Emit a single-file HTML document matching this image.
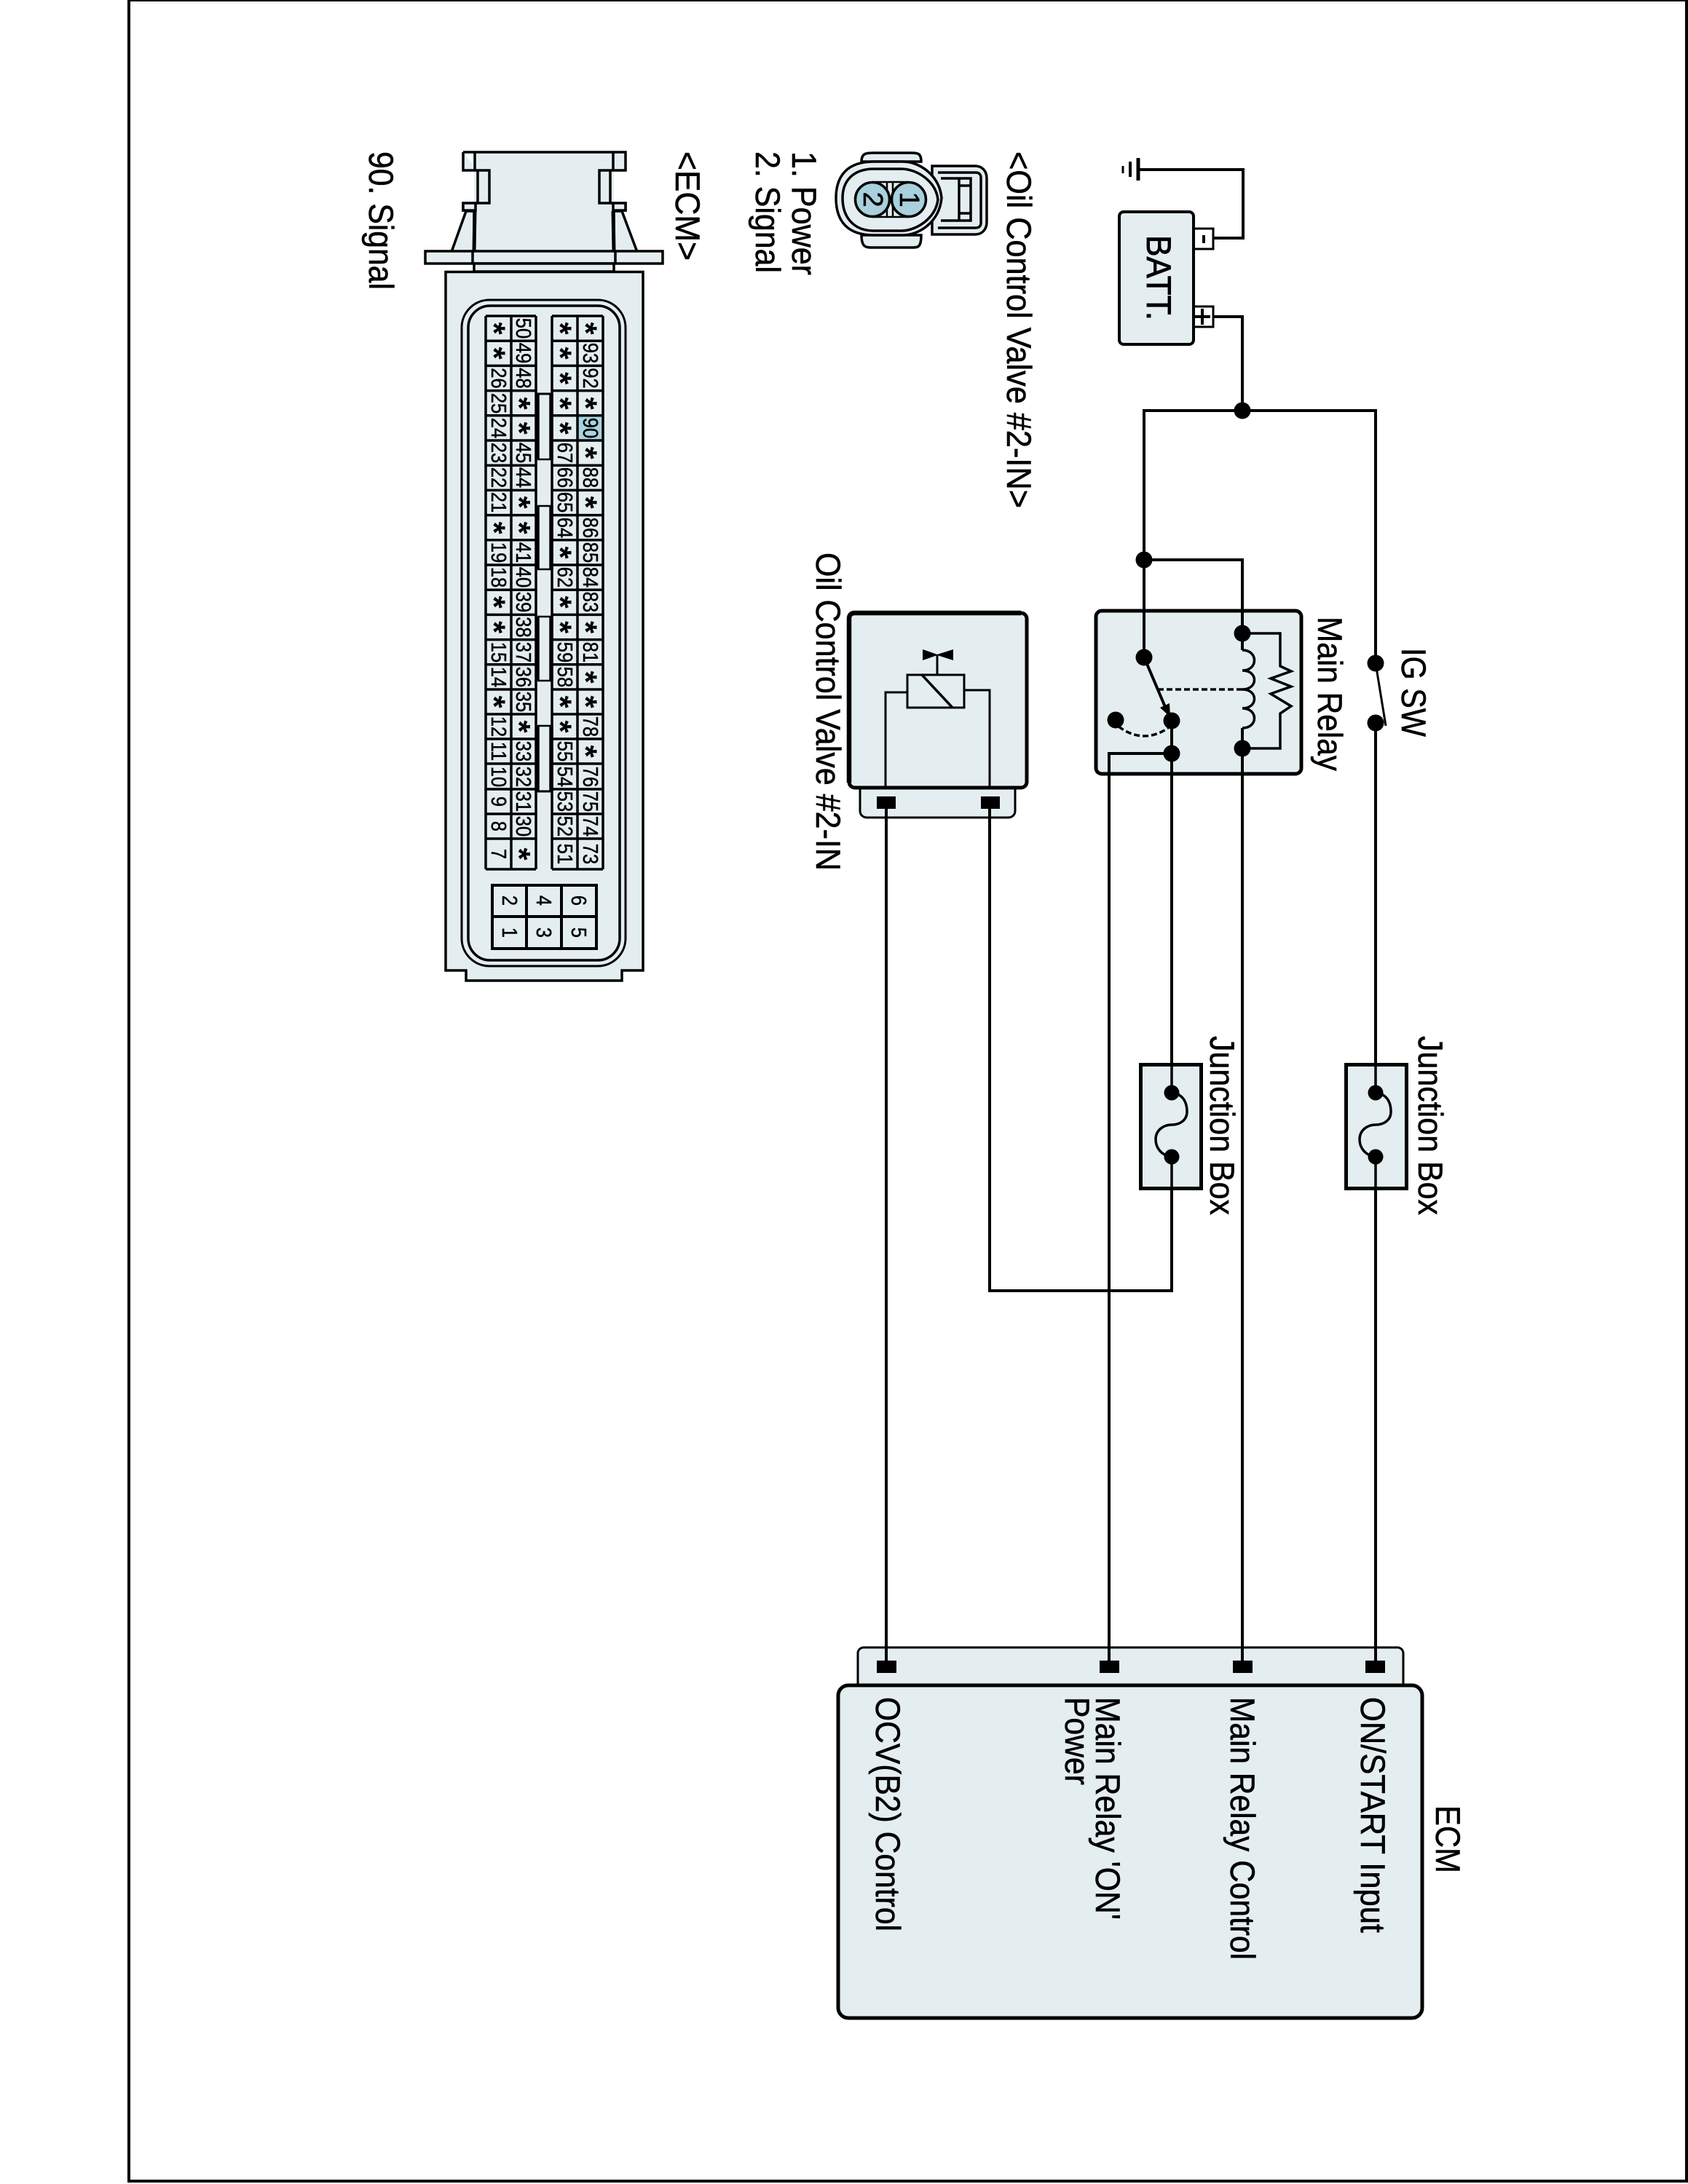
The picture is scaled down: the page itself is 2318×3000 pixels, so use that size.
<!DOCTYPE html>
<html><head><meta charset="utf-8"><style>
html,body{margin:0;padding:0;background:#fff}
svg{display:block}
text{font-family:"Liberation Sans",sans-serif;fill:#000}
.l text{font-size:47px;stroke:#000;stroke-width:.6}
.g text{font-size:29px;text-anchor:middle;stroke:#000;stroke-width:.5;transform-box:fill-box;transform-origin:center;transform:scaleX(.88)}
.s text{font-size:44px;font-weight:bold;text-anchor:middle}
.f{fill:#e4eef0;stroke:#000}
.n{fill:none;stroke:#000}
</style></head><body>
<svg xmlns="http://www.w3.org/2000/svg" width="2318" height="3000" viewBox="0 0 2318 3000">
<rect width="2318" height="3000" fill="#fff"/>
<path d="M177 0V2996H2316V0H177" class="n" stroke-width="4"/>
<path d="M177 1H2316" class="n" stroke-width="2"/>

<!-- wires -->
<g class="n" stroke-width="4">
<path d="M1666 327H1707V233H1563"/>
<path d="M1666 435H1706V564"/>
<path d="M1571 903V564H1889V911" />
<path d="M1571 769H1706V870"/>
<path d="M1889 993V2290"/>
<path d="M1706 1028V2290"/>
<path d="M1609 990V1773H1359V1100"/>
<path d="M1609 1035H1523V2290"/>
<path d="M1217 1100V2290"/>
<path d="M1563 217V248" stroke-width="5"/>
<path d="M1552 222V243" stroke-width="4"/>
<path d="M1542 228V238" stroke-width="3"/>
<path d="M1889 911L1903 997" stroke-width="3"/>
</g>
<circle cx="1706" cy="564" r="11.5"/>
<circle cx="1571" cy="769" r="11.5"/>
<circle cx="1889" cy="911" r="11.5"/>
<circle cx="1889" cy="993" r="11.5"/>

<!-- Battery -->
<rect x="1639" y="314" width="27" height="28" fill="#fff" stroke="#000" stroke-width="3"/>
<rect x="1639" y="421" width="27" height="28" fill="#fff" stroke="#000" stroke-width="3"/>
<rect x="1537" y="291" width="102" height="182" rx="6" class="f" stroke-width="4"/>
<rect x="1651" y="323" width="4" height="11"/>
<path d="M1640 435H1662M1651 424V446" class="n" stroke-width="4"/>

<!-- Main relay -->
<rect x="1505" y="839" width="282" height="224" rx="8" class="f" stroke-width="5"/>
<g class="n" stroke-width="4">
<path d="M1571 839V903"/>
<path d="M1706 839V893"/>
<path d="M1706 1000V1063"/>
<path d="M1609 990V1063"/>
<path d="M1609 1035H1523V1063"/>
<path d="M1706 893C1728 893 1728 921 1706 921C1728 921 1728 947 1706 947C1728 947 1728 973 1706 973C1728 973 1728 1000 1706 1000" stroke-width="3.5"/>
<path d="M1706 870H1758V915L1773 922L1745 932L1773 943L1745 953L1773 970L1758 980V1028H1706" stroke-width="3.5"/>
<path d="M1575 912L1603 978" stroke-width="4"/>
<path d="M1590 947H1712" stroke-width="3.5" stroke-dasharray="8 4"/>
<path d="M1536 998Q1570 1023 1604 1000" stroke-width="3.5" stroke-dasharray="8 4"/>
</g>
<polygon points="1593,972 1606,966 1607,985"/>
<circle cx="1706" cy="870" r="11.5"/>
<circle cx="1706" cy="1028" r="11.5"/>
<circle cx="1571" cy="903" r="11.5"/>
<circle cx="1609" cy="990" r="11.5"/>
<circle cx="1609" cy="1035" r="11.5"/>
<circle cx="1532" cy="989" r="11.5"/>

<!-- Junction boxes -->
<rect x="1566.5" y="1462.5" width="83" height="170" class="f" stroke-width="5"/>
<rect x="1848.5" y="1462.5" width="83" height="170" class="f" stroke-width="5"/>
<g class="n" stroke-width="3.5">
<path d="M1609 1461V1501M1609 1589V1634"/>
<path d="M1889 1461V1501M1889 1589V1634"/>
<path d="M1609 1501C1626 1503 1630 1516 1630 1527C1630 1539 1620 1545 1609 1545C1597 1545 1587 1553 1587 1565C1587 1576 1594 1587 1609 1589"/>
<path d="M1889 1501C1906 1503 1910 1516 1910 1527C1910 1539 1900 1545 1889 1545C1877 1545 1867 1553 1867 1565C1867 1576 1874 1587 1889 1589"/>
</g>
<circle cx="1609" cy="1501" r="10.5"/><circle cx="1609" cy="1589" r="10.5"/>
<circle cx="1889" cy="1501" r="10.5"/><circle cx="1889" cy="1589" r="10.5"/>

<!-- OCV -->
<rect x="1181" y="1060" width="213" height="63" rx="9" class="f" stroke-width="3"/>
<rect x="1166" y="842" width="244" height="240" rx="8" class="f" stroke-width="5"/>
<path d="M1166 1075V850Q1166 842 1174 842H1402" class="n" stroke-width="6.5"/>
<rect x="1204" y="1094" width="26" height="17"/>
<rect x="1347" y="1094" width="26" height="17"/>
<path d="M1217 1105V1125M1359 1105V1125" class="n" stroke-width="4"/>
<rect x="1246" y="927" width="78" height="45" class="f" stroke-width="3"/>
<g class="n" stroke-width="3">
<path d="M1266 927L1308 972" stroke-width="3.5"/>
<path d="M1287 927V900"/>
<path d="M1216 1083V951H1246"/>
<path d="M1359 1083V948H1324"/>
</g>
<polygon points="1267,892 1287,899 1309,892 1309,907 1287,900 1267,907"/>

<!-- ECM module -->
<rect x="1178" y="2263" width="749" height="70" rx="8" class="f" stroke-width="3"/>
<rect x="1151" y="2315" width="802" height="457" rx="14" class="f" stroke-width="5"/>
<path d="M1217 2260V2290M1523 2260V2290M1706 2260V2290M1889 2260V2290" class="n" stroke-width="4"/>
<rect x="1204" y="2281" width="27" height="17"/>
<rect x="1510" y="2281" width="27" height="17"/>
<rect x="1693" y="2281" width="27" height="17"/>
<rect x="1875" y="2281" width="27" height="17"/>

<!-- Small connector -->
<g stroke-width="3.5">
<path d="M1183 222C1183 210 1190 210 1200 210H1250C1260 210 1265 210 1265 222Z" class="f"/>
<path d="M1183 323C1183 341 1190 340 1200 340H1250C1260 340 1265 341 1265 323Z" class="f"/>
<path d="M1280 228H1339C1349 228 1355 235 1355 245V305C1355 315 1349 322 1339 322H1280Z" class="f"/>
<path d="M1288 237H1340C1345 237 1347 240 1347 244V306C1347 310 1345 313 1340 313H1288" class="n"/>
<path d="M1292 245H1333V303H1292" class="n"/>
<path d="M1317 245V303M1317 255H1333M1317 293H1333" class="n"/>
<path d="M1148 272C1148 240 1165 222 1200 222H1240C1262 222 1290 240 1293 272C1290 305 1262 323 1240 323H1200C1165 323 1148 305 1148 272Z" class="f"/>
<path d="M1157 272C1157 248 1172 232 1200 232H1238C1258 232 1285 248 1288 274C1285 300 1258 317 1238 317H1200C1172 317 1157 298 1157 272Z" class="n"/>
<path d="M1198 250H1248M1198 298H1248M1218 250V298M1226 250V298" class="n" stroke-width="2.5"/>
<circle cx="1198" cy="274" r="23.5" fill="#a9d0dc" stroke="#000"/>
<circle cx="1248" cy="274" r="23.5" fill="#a9d0dc" stroke="#000"/>
</g>
<text font-size="38" text-anchor="middle" stroke="#000" stroke-width=".6" transform="translate(1186,274) rotate(90)">2</text>
<text font-size="38" text-anchor="middle" stroke="#000" stroke-width=".6" transform="translate(1236,274) rotate(90)">1</text>

<!-- ECM connector -->
<g stroke-width="3.5">
<rect x="651" y="209" width="192" height="140" fill="#e4eef0"/>
<path d="M636 209H859V234H823V279H838V234M636 209V234H672V279H656V234" class="f"/>
<path d="M652 209V234M842 209V234M656 279H636V289H653M838 279H859V289H842" class="n"/>
<rect x="636" y="279" width="17" height="10" class="f"/>
<rect x="842" y="279" width="17" height="10" class="f"/>
<path d="M640 290L620 346H651V290Z" class="f"/>
<path d="M854 290L875 346H843V290Z" class="f"/>
<path d="M652 290L651 345M842 290L843 345" class="n" stroke-width="5"/>
<rect x="584" y="345" width="326" height="17" class="f"/>
<path d="M649 345V362M845 345V362" class="n"/>
<rect x="651" y="362" width="192" height="11" class="f"/>
<path d="M612 373.5H883V1333H854V1347H640V1333H612Z" class="f"/>
<rect x="634" y="412" width="225" height="915" rx="38" fill="none" stroke="#000" stroke-width="3"/>
<rect x="643" y="420" width="208" height="899" rx="30" fill="none" stroke="#000" stroke-width="3.5"/>
</g>
<rect x="793" y="570.8" width="35" height="34.2" fill="#a9d3e0"/>
<g class="n" stroke-width="3.5">
<path d="M667 434V1194M702 434V1194M736 434V1194M758 434V1194M793 434V1194M828 434V1194"/>
<path d="M667 434H736M667 468.2H736M667 502.4H736M667 536.6H736M667 570.8H736M667 605H736M667 639.2H736M667 673.4H736M667 707.6H736M667 741.8H736M667 776H736M667 810.2H736M667 844.4H736M667 878.6H736M667 912.8H736M667 947H736M667 981H736M667 1015H736M667 1049H736M667 1084H736M667 1118H736M667 1152H736M667 1194H736"/>
<path d="M758 434H828M758 468.2H828M758 502.4H828M758 536.6H828M758 570.8H828M758 605H828M758 639.2H828M758 673.4H828M758 707.6H828M758 741.8H828M758 776H828M758 810.2H828M758 844.4H828M758 878.6H828M758 912.8H828M758 947H828M758 981H828M758 1015H828M758 1049H828M758 1084H828M758 1118H828M758 1152H828M758 1194H828"/>
<path d="M738 631H757M738 695H757M738 782H757M738 847H757M738 935H757M738 997H757" stroke-width="2.5"/>
<path d="M738 541V631M757 541V631M738 695V782M757 695V782M738 847V935M757 847V935M738 997V1087M757 997V1087" stroke-width="5.5"/>
<path d="M737 1087H758M737 541H758" stroke-width="3"/>
<path d="M676 1216H819V1303H676ZM723 1216V1303M771 1216V1303M676 1259H819" stroke-width="4"/>
</g>

<!-- Pin numbers -->
<g transform="rotate(90)">
<g class="g">
<text x="485" y="-709">49</text><text x="451" y="-709">50</text><text x="519.5" y="-709">48</text><text x="622" y="-709">45</text><text x="656" y="-709">44</text><text x="759" y="-709">41</text><text x="793" y="-709">40</text><text x="827" y="-709">39</text><text x="861.5" y="-709">38</text><text x="896" y="-709">37</text><text x="930" y="-709">36</text><text x="964" y="-709">35</text><text x="1032" y="-709">33</text><text x="1067" y="-709">32</text><text x="1101" y="-709">31</text><text x="1135" y="-709">30</text>
<text x="519.5" y="-675">26</text><text x="554" y="-675">25</text><text x="588" y="-675">24</text><text x="622" y="-675">23</text><text x="656" y="-675">22</text><text x="690" y="-675">21</text><text x="759" y="-675">19</text><text x="793" y="-675">18</text><text x="896" y="-675">15</text><text x="930" y="-675">14</text><text x="998" y="-675">12</text><text x="1032" y="-675">11</text><text x="1067" y="-675">10</text><text x="1101" y="-675">9</text><text x="1135" y="-675">8</text><text x="1173" y="-675">7</text>
<text x="622" y="-766">67</text><text x="656" y="-766">66</text><text x="690" y="-766">65</text><text x="725" y="-766">64</text><text x="793" y="-766">62</text><text x="896" y="-766">59</text><text x="930" y="-766">58</text><text x="1032" y="-766">55</text><text x="1067" y="-766">54</text><text x="1101" y="-766">53</text><text x="1135" y="-766">52</text><text x="1173" y="-766">51</text>
<text x="485" y="-801">93</text><text x="519.5" y="-801">92</text><text x="588" y="-801">90</text><text x="656" y="-801">88</text><text x="725" y="-801">86</text><text x="759" y="-801">85</text><text x="793" y="-801">84</text><text x="827" y="-801">83</text><text x="896" y="-801">81</text><text x="998" y="-801">78</text><text x="1067" y="-801">76</text><text x="1101" y="-801">75</text><text x="1135" y="-801">74</text><text x="1173" y="-801">73</text>
<text x="1237" y="-690">2</text><text x="1281" y="-690">1</text>
<text x="1237" y="-737">4</text><text x="1281" y="-737">3</text>
<text x="1237" y="-785">6</text><text x="1281" y="-785">5</text>
</g>
<g class="s">
<text x="451" y="-663.5">*</text><text x="485" y="-663.5">*</text><text x="725" y="-663.5">*</text><text x="827" y="-663.5">*</text><text x="861.5" y="-663.5">*</text><text x="964" y="-663.5">*</text>
<text x="554" y="-698">*</text><text x="588" y="-698">*</text><text x="690" y="-698">*</text><text x="725" y="-698">*</text><text x="998" y="-698">*</text><text x="1173" y="-698">*</text>
<text x="451" y="-754.5">*</text><text x="485" y="-754.5">*</text><text x="519.5" y="-754.5">*</text><text x="554" y="-754.5">*</text><text x="588" y="-754.5">*</text><text x="759" y="-754.5">*</text><text x="827" y="-754.5">*</text><text x="861.5" y="-754.5">*</text><text x="964" y="-754.5">*</text><text x="998" y="-754.5">*</text>
<text x="451" y="-789.5">*</text><text x="554" y="-789.5">*</text><text x="622" y="-789.5">*</text><text x="690" y="-789.5">*</text><text x="861.5" y="-789.5">*</text><text x="930" y="-789.5">*</text><text x="964" y="-789.5">*</text><text x="1032" y="-789.5">*</text>
</g>
</g>

<!-- Labels -->
<g class="l">
<text transform="translate(1575,323) rotate(90)" textLength="117" lengthAdjust="spacingAndGlyphs" style="stroke-width:.9">BATT.</text>
<text transform="translate(1925,890) rotate(90)" textLength="122" lengthAdjust="spacingAndGlyphs">IG SW</text>
<text transform="translate(1810,847) rotate(90)" textLength="212" lengthAdjust="spacingAndGlyphs">Main Relay</text>
<text transform="translate(1121,759) rotate(90)" textLength="437" lengthAdjust="spacingAndGlyphs">Oil Control Valve #2-IN</text>
<text transform="translate(1948,1423) rotate(90)" textLength="246" lengthAdjust="spacingAndGlyphs">Junction Box</text>
<text transform="translate(1662,1423) rotate(90)" textLength="246" lengthAdjust="spacingAndGlyphs">Junction Box</text>
<text transform="translate(1383,208) rotate(90)" textLength="490" lengthAdjust="spacingAndGlyphs">&lt;Oil Control Valve #2-IN&gt;</text>
<text transform="translate(1088,208) rotate(90)" textLength="170" lengthAdjust="spacingAndGlyphs">1. Power</text>
<text transform="translate(1038,208) rotate(90)" textLength="167" lengthAdjust="spacingAndGlyphs">2. Signal</text>
<text transform="translate(928,208) rotate(90)" textLength="150" lengthAdjust="spacingAndGlyphs">&lt;ECM&gt;</text>
<text transform="translate(507,208) rotate(90)" textLength="190" lengthAdjust="spacingAndGlyphs">90. Signal</text>
<text transform="translate(1869,2331) rotate(90)" textLength="324" lengthAdjust="spacingAndGlyphs">ON/START Input</text>
<text transform="translate(1690,2331) rotate(90)" textLength="361" lengthAdjust="spacingAndGlyphs">Main Relay Control</text>
<text transform="translate(1505,2331) rotate(90)" textLength="306" lengthAdjust="spacingAndGlyphs">Main Relay 'ON'</text>
<text transform="translate(1463,2331) rotate(90)" textLength="121" lengthAdjust="spacingAndGlyphs">Power</text>
<text transform="translate(1203,2331) rotate(90)" textLength="322" lengthAdjust="spacingAndGlyphs">OCV(B2) Control</text>
<text transform="translate(1972,2480) rotate(90)" textLength="93" lengthAdjust="spacingAndGlyphs">ECM</text>
</g>
</svg>
</body></html>
